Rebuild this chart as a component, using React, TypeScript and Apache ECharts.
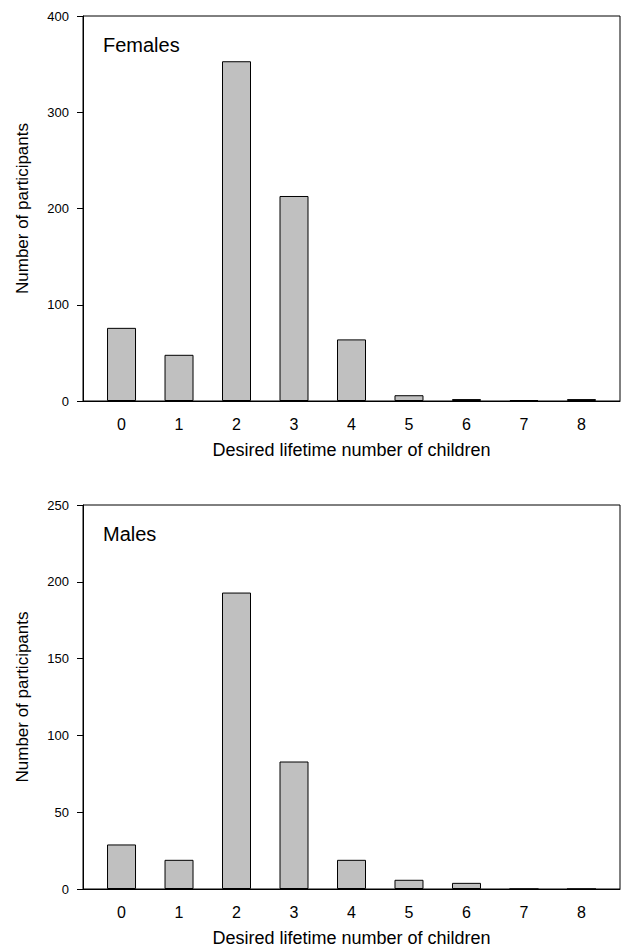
import React, { useEffect, useRef } from "react";
import * as echarts from "echarts";

const categories = ["0", "1", "2", "3", "4", "5", "6", "7", "8"];
const childCounts = [0, 1, 2, 3, 4, 5, 6, 7, 8];
const femaleValues = [76, 48, 353, 213, 64, 6, 2, 1, 2];
const maleValues = [29, 19, 193, 83, 19, 6, 4, 0, 0];
const femaleTicks = { min: 0, max: 400, interval: 100 };
const maleTicks = { min: 0, max: 250, interval: 50 };
const panelLabels = ["Females", "Males"];
const xTitle = "Desired lifetime number of children";
const yTitle = "Number of participants";

const FONT = "'Liberation Sans', Arial, Helvetica, sans-serif";

export default function App() {
  const ref = useRef<HTMLDivElement>(null);
  useEffect(() => {
    if (!ref.current) return;
    const chart = echarts.init(ref.current, null, { renderer: "svg" });
    const grids = [
      { left: 83, top: 16, width: 537, height: 385 },
      { left: 83, top: 505, width: 537, height: 385 },
    ];
    const yTicks = [femaleTicks, maleTicks];
    const seriesValues = [femaleValues, maleValues];
    chart.setOption({
      animation: false,
      backgroundColor: "#fff",
      title: panelLabels.map((t, i) => ({
        text: t,
        left: 103,
        top: grids[i].top + 19,
        textStyle: { fontFamily: FONT, fontSize: 20, fontWeight: "normal", color: "#000" },
        padding: 0,
      })),
      grid: grids.map((g) => ({
        ...g,
        show: true,
        borderColor: "#000",
        borderWidth: 1,
        backgroundColor: "transparent",
      })),
      xAxis: grids.map((_, i) => ({
        type: "value",
        gridIndex: i,
        min: -0.67,
        max: 8.67,
        name: xTitle,
        nameLocation: "middle",
        nameGap: 40,
        nameTextStyle: { fontFamily: FONT, fontSize: 18, color: "#000" },
        axisLine: { show: true, onZero: false, lineStyle: { color: "#000", width: 1 } },
        axisTick: { show: false },
        splitLine: { show: false },
        axisLabel: {
          customValues: childCounts,
          formatter: (v: number) => categories[childCounts.indexOf(Math.round(v))] ?? "",
          fontFamily: FONT,
          fontSize: 16,
          color: "#000",
          margin: 15,
        },
      })),
      yAxis: grids.map((_, i) => ({
        type: "value",
        gridIndex: i,
        min: yTicks[i].min,
        max: yTicks[i].max,
        interval: yTicks[i].interval,
        name: yTitle,
        nameLocation: "middle",
        nameGap: 52,
        nameTextStyle: { fontFamily: FONT, fontSize: 17, color: "#000" },
        axisLine: { show: true, onZero: false, lineStyle: { color: "#000", width: 1 } },
        axisTick: { show: true, inside: false, length: 6, lineStyle: { color: "#000" } },
        splitLine: { show: false },
        axisLabel: { fontFamily: FONT, fontSize: 13, color: "#000", margin: 14 },
      })),
      series: seriesValues.map((vals, i) => ({
        type: "bar",
        xAxisIndex: i,
        yAxisIndex: i,
        barWidth: 29,
        data: childCounts.map((c, k) => [c, vals[k]]),
        itemStyle: { color: "#c0c0c0", borderColor: "#000", borderWidth: 1 },
      })),
    });
    return () => chart.dispose();
  }, []);
  return (
    <div
      ref={ref}
      style={{ position: "absolute", left: 0, top: 0, width: 626, height: 948 }}
    />
  );
}
